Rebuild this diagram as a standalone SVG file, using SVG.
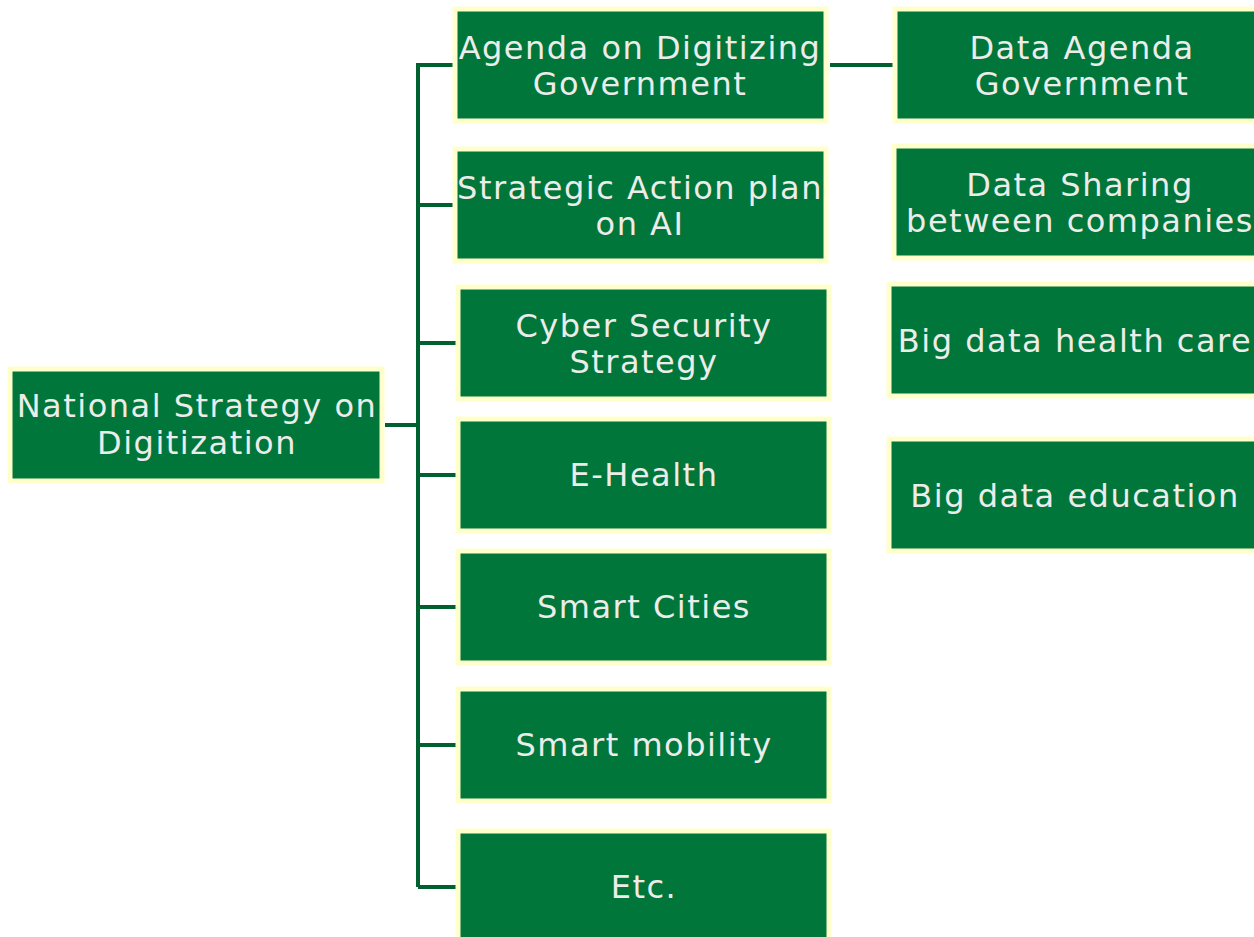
<svg xmlns="http://www.w3.org/2000/svg" width="1254" height="937" viewBox="0 0 1254 937">
<style>
.box{fill:#00763a;stroke:#ffffcc;stroke-width:5}
.t{font-family:"DejaVu Sans",Verdana,sans-serif;font-size:32px;letter-spacing:1.5px;fill:#ececea;text-anchor:middle}
.c{stroke:#006030;stroke-width:4;fill:none}
</style>
<rect width="1254" height="937" fill="#ffffff"/>
<g id="connectors">
<path class="c" d="M385 425H418M418 63V887M416 65H456M418 205H456M418 343H458M418 475H458M418 607H458M418 745H458M418 887H459M830 65H894"/>
</g>
<g id="n-root"><rect class="box" x="10" y="369" width="372" height="112"/><text class="t" x="197" y="417">National Strategy on</text><text class="t" x="197" y="454">Digitization</text></g>
<g id="n-agenda"><rect class="box" x="455" y="9" width="371" height="112"/><text class="t" x="640" y="59">Agenda on Digitizing</text><text class="t" x="640" y="95">Government</text></g>
<g id="n-ai"><rect class="box" x="455" y="149" width="371" height="112"/><text class="t" x="640" y="199">Strategic Action plan</text><text class="t" x="640" y="235">on AI</text></g>
<g id="n-cyber"><rect class="box" x="458" y="287" width="371" height="112"/><text class="t" x="644" y="337">Cyber Security</text><text class="t" x="644" y="373">Strategy</text></g>
<g id="n-ehealth"><rect class="box" x="458" y="419" width="371" height="112"/><text class="t" x="644" y="486">E-Health</text></g>
<g id="n-cities"><rect class="box" x="458" y="551" width="371" height="112"/><text class="t" x="644" y="618">Smart Cities</text></g>
<g id="n-mobility"><rect class="box" x="458" y="689" width="371" height="112"/><text class="t" x="644" y="756">Smart mobility</text></g>
<g id="n-etc"><rect class="box" x="458" y="831" width="371" height="120"/><text class="t" x="644" y="898">Etc.</text></g>
<g id="n-dataagenda"><rect class="box" x="895" y="9" width="380" height="112"/><text class="t" x="1082" y="59">Data Agenda</text><text class="t" x="1082" y="95">Government</text></g>
<g id="n-datasharing"><rect class="box" x="894" y="146" width="380" height="112"/><text class="t" x="1080" y="196">Data Sharing</text><text class="t" x="1080" y="232">between companies</text></g>
<g id="n-health"><rect class="box" x="889" y="284" width="380" height="112"/><text class="t" x="1075" y="352">Big data health care</text></g>
<g id="n-education"><rect class="box" x="889" y="439" width="380" height="112"/><text class="t" x="1075" y="507">Big data education</text></g>
</svg>
